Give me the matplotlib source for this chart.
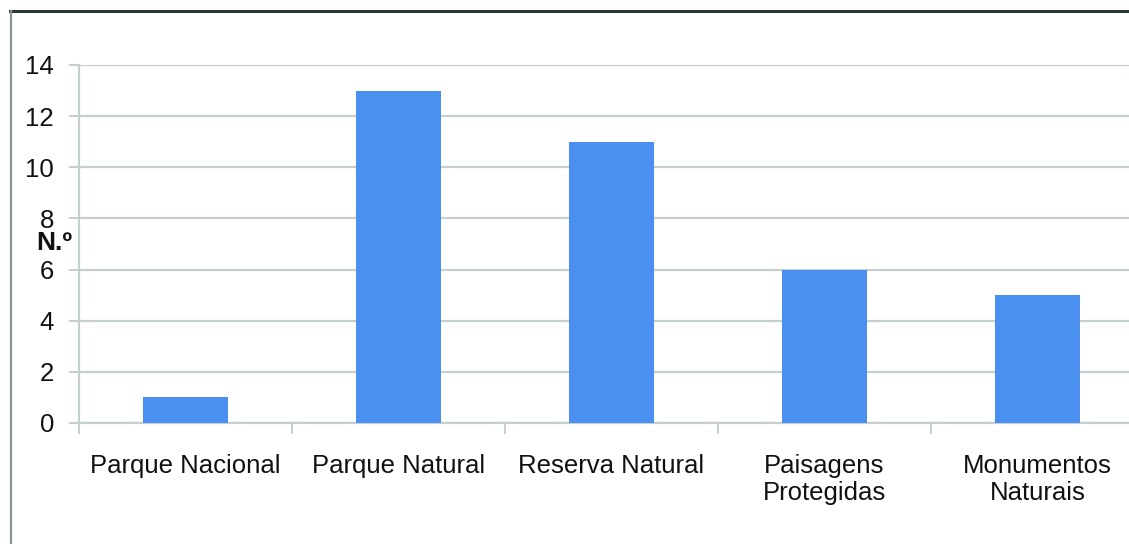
import matplotlib
matplotlib.use("Agg")
import matplotlib.pyplot as plt
from matplotlib.lines import Line2D

categories = ["Parque Nacional", "Parque Natural", "Reserva Natural",
              "Paisagens\nProtegidas", "Monumentos\nNaturais"]
values = [1, 13, 11, 6, 5]
yticks = [0, 2, 4, 6, 8, 10, 12, 14]

plt.rcParams['font.family'] = ['Liberation Sans', 'DejaVu Sans']

W, H = 1129, 544
fig = plt.figure(figsize=(W / 100, H / 100), dpi=100)
ax = fig.add_axes([79 / W, 1 - 423 / H, (5 * 213) / W, (423 - 65) / H])

grid_c = '#c5cfcf'
x = list(range(len(categories)))
ax.bar(x, values, width=0.4, color='#4a90f0', zorder=3)
ax.set_xlim(-0.5, len(categories) - 0.5)
ax.set_ylim(0, 14)
ax.set_yticks(yticks)
ax.set_yticklabels([str(v) for v in yticks], fontsize=18.5, color='#111111')
ax.yaxis.grid(True, color=grid_c, linewidth=1.6, zorder=0)
ax.set_axisbelow(True)

ax.set_xticks([i - 0.5 for i in range(len(categories) + 1)], minor=False)
ax.set_xticklabels([''] * (len(categories) + 1))
ax.set_xticks(x, minor=True)
ax.set_xticklabels(categories, minor=True, fontsize=18.5, color='#111111',
                   linespacing=1.2)
ax.tick_params(axis='x', which='minor', length=0, pad=22)
ax.tick_params(axis='x', which='major', length=8, color=grid_c, width=1.4)
ax.tick_params(axis='y', length=7, color=grid_c, width=1.4, pad=11)

for s in ['top', 'right']:
    ax.spines[s].set_visible(False)
for s in ['left', 'bottom']:
    ax.spines[s].set_color(grid_c)
    ax.spines[s].set_linewidth(1.6)

fig.text(36 / W, 1 - 243 / H, 'N.º', fontsize=19, fontweight='bold',
         ha='left', va='center', color='#111111')

# outer frame
fig.add_artist(Line2D([10 / W, 1.0], [1 - 11 / H, 1 - 11 / H],
                      transform=fig.transFigure, color='#2a3838', linewidth=2.2))
fig.add_artist(Line2D([11 / W, 11 / W], [0, 1 - 11 / H],
                      transform=fig.transFigure, color='#8a9494', linewidth=1.6))

fig.savefig('out.png', dpi=100)
